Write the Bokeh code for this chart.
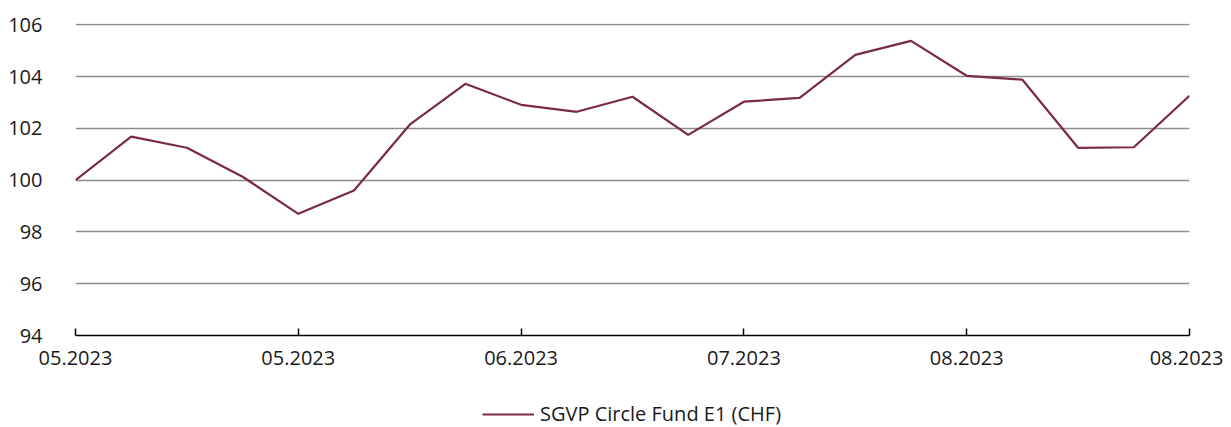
from bokeh.plotting import figure
from bokeh.models import FixedTicker, Range1d, Legend, LegendItem
from bokeh.layouts import column
from bokeh.embed import file_html
from bokeh.resources import INLINE

# Data
x_index = list(range(21))
fund_values = [100.0, 101.68, 101.25, 100.13, 98.7, 99.6, 102.14, 103.72, 102.91,
               102.64, 103.22, 101.75, 103.03, 103.18, 104.84, 105.38, 104.03,
               103.88, 101.25, 101.27, 103.26]
tick_positions = [0, 4, 8, 12, 16, 20]
tick_labels = ["05.2023", "05.2023", "06.2023", "07.2023", "08.2023", "08.2023"]
y_ticks = [94, 96, 98, 100, 102, 104, 106]
series_name = "SGVP Circle Fund E1 (CHF)"

FONT = "Open Sans"
LINE_COLOR = "#7A2A45"

p = figure(frame_width=1114, frame_height=312, output_backend="svg", toolbar_location=None,
           x_range=Range1d(0, 20), y_range=Range1d(94, 106.05),
           min_border_left=75, min_border_right=34, min_border_top=23,
           min_border_bottom=62)
p.outline_line_color = None
p.background_fill_color = "white"
p.border_fill_color = "white"

r = p.line(x_index, fund_values, line_color=LINE_COLOR, line_width=2.2)

# grid
p.xgrid.grid_line_color = None
p.ygrid.ticker = FixedTicker(ticks=y_ticks[1:])
p.ygrid.grid_line_color = "#8c8c8c"
p.ygrid.grid_line_width = 1.4

# x axis
p.xaxis.ticker = FixedTicker(ticks=tick_positions)
p.xaxis.major_label_overrides = {t: l for t, l in zip(tick_positions, tick_labels)}
p.xaxis.axis_line_color = "black"
p.xaxis.axis_line_width = 1.5
p.xaxis.major_tick_in = 7
p.xaxis.major_tick_out = 0
p.xaxis.major_tick_line_color = "black"
p.xaxis.major_tick_line_width = 1.5
p.xaxis.minor_tick_line_color = None
p.xaxis.major_label_text_font = FONT
p.xaxis.major_label_text_font_size = "20px"
p.xaxis.major_label_text_color = "#1a1a1a"
p.xaxis.major_label_standoff = 15

# y axis
p.yaxis.ticker = FixedTicker(ticks=y_ticks)
p.yaxis.axis_line_color = None
p.yaxis.major_tick_line_color = None
p.yaxis.minor_tick_line_color = None
p.yaxis.major_label_text_font = FONT
p.yaxis.major_label_text_font_size = "20px"
p.yaxis.major_label_text_color = "#1a1a1a"
p.yaxis.major_label_standoff = 27

# legend strip (separate small figure; its series line lies outside its view)
p2 = figure(width=1223, height=30, output_backend="svg", toolbar_location=None,
            x_range=Range1d(-100, -99), y_range=Range1d(94, 106),
            x_axis_type=None, y_axis_type=None,
            min_border_left=0, min_border_right=0, min_border_top=0,
            min_border_bottom=0)
p2.outline_line_color = None
p2.xgrid.grid_line_color = None
p2.ygrid.grid_line_color = None
r2 = p2.line(x_index, fund_values, line_color=LINE_COLOR, line_width=2.2)

legend = Legend(items=[LegendItem(label=series_name, renderers=[r2])],
                location=(407, 0), orientation="horizontal",
                label_text_font=FONT, label_text_font_size="20px",
                label_text_color="#1a1a1a", glyph_width=52, label_standoff=6,
                border_line_color=None, background_fill_alpha=0,
                padding=0, margin=0)
p2.add_layout(legend, "center")

layout = column(p, p2, spacing=0)

open("out.html", "w").write(file_html(layout, INLINE))
